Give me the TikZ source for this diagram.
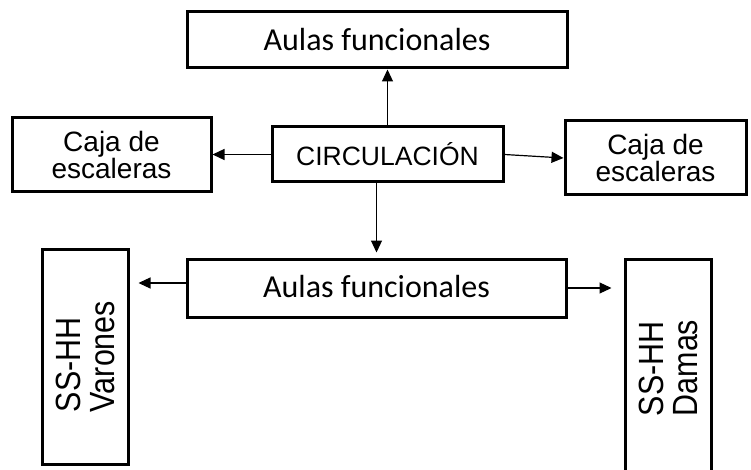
\documentclass[tikz,border=0pt]{standalone}
\usepackage{fontspec}
\setmainfont{Liberation Sans}
\newfontfamily\aulasfont{Carlito}
\newfontfamily\ssfont[FakeStretch=0.87]{Liberation Sans}
\usetikzlibrary{arrows.meta,positioning}

\begin{document}
\begin{tikzpicture}[x=1pt,y=1pt]
  \tikzset{caja/.style={rectangle, draw, line width=3pt, inner sep=0pt, align=center},
    flecha/.style={line width=1.2pt, -{Triangle[length=12pt,width=11pt]}}}
  \useasboundingbox (0,0) rectangle (751,-470);
  \clip (0,0) rectangle (751,-470);
  % Center and top
  \node[caja, minimum width=231pt, minimum height=55pt, font=\fontsize{26.5}{28}\selectfont] (circ) at (387.5,-154.5) {CIRCULACIÓN};
  \node[caja, minimum width=380pt, minimum height=56pt, font=\aulasfont\fontsize{32}{34}\selectfont] (aulasup) at (377,-40) {\raisebox{2pt}{Aulas funcionales}};
  % Stairs
  \node[caja, minimum width=199pt, minimum height=74pt, font=\fontsize{28}{23}\selectfont] (cajaizq) at (111.5,-155) {Caja de\\escaleras};
  \node[caja, minimum width=181pt, minimum height=74pt, font=\fontsize{28}{23}\selectfont] (cajader) at (655.5,-158) {Caja de\\escaleras};
  % Lower row
  \node[caja, minimum width=379pt, minimum height=58pt, font=\aulasfont\fontsize{32}{34}\selectfont] (aulasinf) at (376.5,-288) {\raisebox{4pt}{Aulas funcionales}};
  \node[caja, rotate=90, minimum width=215pt, minimum height=86pt, align=left, font=\ssfont\fontsize{35}{34}\selectfont] (varones) at (85,-356.5) {SS-HH\\Varones};
  \node[caja, rotate=90, minimum width=218pt, minimum height=86pt, align=left, font=\ssfont\fontsize{35}{34}\selectfont] (damas) at (668,-368) {SS-HH\\Damas};
  % Arrows
  \draw[flecha] (circ.north) -- (circ.north |- aulasup.south);
  \draw[flecha] (circ.west) -- (circ.west -| cajaizq.east);
  \draw[flecha] (circ.east) -- (cajader.west);
  \draw[flecha, shorten >=5pt] (aulasinf.north |- circ.south) -- (aulasinf.north);
  \draw[flecha, shorten >=9pt] ([yshift=5pt]aulasinf.west) -- ([yshift=5pt]aulasinf.west -| varones.south);
  \draw[flecha, shorten >=12pt] (aulasinf.east) -- (aulasinf.east -| damas.north);
\end{tikzpicture}
\end{document}
